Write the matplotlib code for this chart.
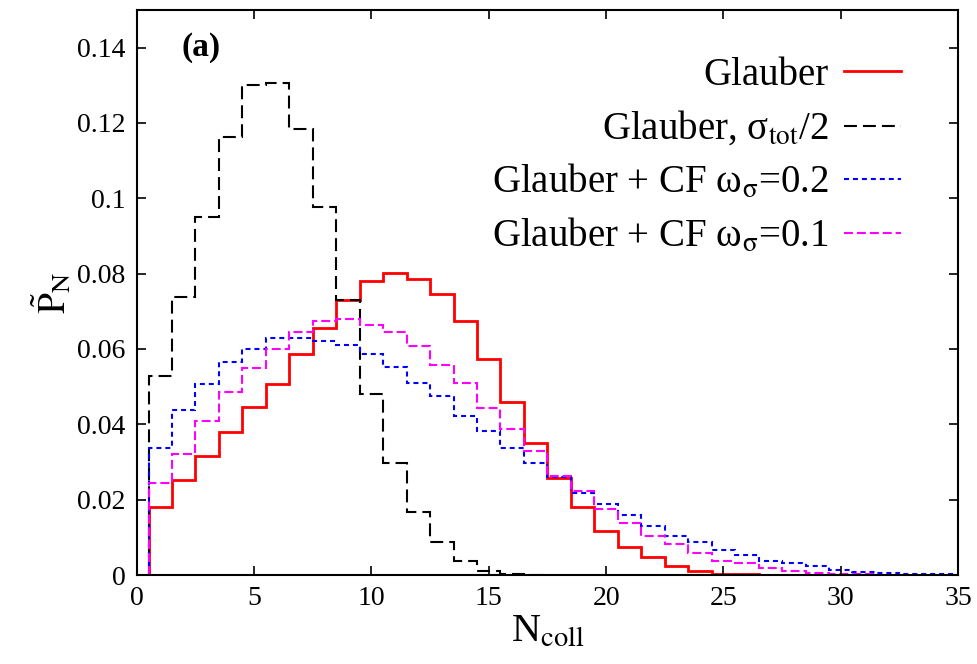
import matplotlib
matplotlib.use("Agg")
import matplotlib.pyplot as plt
import numpy as np

# bin heights for N_coll = 1, 2, 3, ...
glauber = [0.0180, 0.0251, 0.0317, 0.0379, 0.0445, 0.0506, 0.0587, 0.0655,
           0.0730, 0.0780, 0.0801, 0.0785, 0.0746, 0.0673, 0.0574, 0.0459,
           0.0351, 0.0258, 0.0180, 0.0117, 0.0075, 0.0047, 0.0025, 0.0010,
           0.0004, 0.0002]
glauber_half = [0.0529, 0.0737, 0.0950, 0.1163, 0.1302, 0.1305, 0.1185,
                0.0978, 0.0729, 0.0480, 0.0297, 0.0166, 0.0088, 0.0038,
                0.0012, 0.0004, 0.0001]
cf_02 = [0.0338, 0.0438, 0.0507, 0.0565, 0.0599, 0.0629, 0.0630, 0.0622,
         0.0611, 0.0588, 0.0552, 0.0509, 0.0474, 0.0423, 0.0381, 0.0336,
         0.0297, 0.0261, 0.0219, 0.0189, 0.0159, 0.0130, 0.0104, 0.0088,
         0.0066, 0.0053, 0.0037, 0.0031, 0.0025, 0.0013, 0.0009, 0.0006,
         0.0004, 0.0003, 0.0002]
cf_01 = [0.0245, 0.0321, 0.0409, 0.0487, 0.0549, 0.0599, 0.0644, 0.0673,
         0.0679, 0.0665, 0.0644, 0.0607, 0.0558, 0.0509, 0.0444, 0.0387,
         0.0330, 0.0263, 0.0224, 0.0176, 0.0139, 0.0104, 0.0082, 0.0059,
         0.0038, 0.0031, 0.0018, 0.0011, 0.0006, 0.0004, 0.0002]

labels = ['Glauber',
          r'Glauber, σ$_{\mathrm{tot}}$/2',
          r'Glauber + CF ω$_{\mathrm{\sigma}}$=0.2',
          r'Glauber + CF ω$_{\mathrm{\sigma}}$=0.1']

yticks = [0, 0.02, 0.04, 0.06, 0.08, 0.1, 0.12, 0.14]
ytick_labels = ['0', '0.02', '0.04', '0.06', '0.08', '0.1', '0.12', '0.14']
xticks = [0, 5, 10, 15, 20, 25, 30, 35]

plt.rcParams['font.family'] = ['Liberation Serif', 'DejaVu Serif']
plt.rcParams['mathtext.fontset'] = 'stix'

fig = plt.figure(figsize=(9.77, 6.64), dpi=100)
ax = fig.add_axes([0.140, 0.134, 0.8406, 0.851])

styles = [
    dict(color='#ff0000', lw=2.0, ls='-'),
    dict(color='black', lw=1.5, ls=(0, (6.2, 2.9))),
    dict(color='#0000ff', lw=1.5, ls=(0, (2.4, 1.9))),
    dict(color='#ff00ff', lw=1.5, ls=(0, (4.3, 1.9))),
]

for vals, lab, st in zip([glauber, glauber_half, cf_02, cf_01], labels, styles):
    vals = np.array(vals)
    edges = np.arange(len(vals) + 1) + 0.5
    ax.stairs(vals, edges, baseline=0, label=lab, **st)

ax.set_xlim(0, 35)
ax.set_ylim(0, 0.15)
ax.set_xticks(xticks)
ax.set_yticks(yticks)
ax.set_yticklabels(ytick_labels)
ax.tick_params(direction='in', top=True, right=True, length=6.5, width=1.2,
               labelsize=20)
ax.tick_params(axis='y', pad=8)
ax.tick_params(axis='x', pad=8)
for sp in ax.spines.values():
    sp.set_linewidth(1.5)

ax.set_xlabel(r'N$_{\mathrm{coll}}$', fontsize=29, labelpad=2)
ax.set_ylabel(r'$\tilde{\mathrm{P}}_{\mathrm{N}}$', fontsize=27, labelpad=2)

ax.text(1.9, 0.14, '(a)', fontsize=24, fontweight='bold', va='center')

ax.legend(loc='upper right', bbox_to_anchor=(0.93, 0.917), frameon=False,
          markerfirst=False, fontsize=28, handlelength=1.45,
          handletextpad=0.4, labelspacing=0.4, borderpad=0,
          borderaxespad=0)

fig.savefig('out.png', dpi=100)
